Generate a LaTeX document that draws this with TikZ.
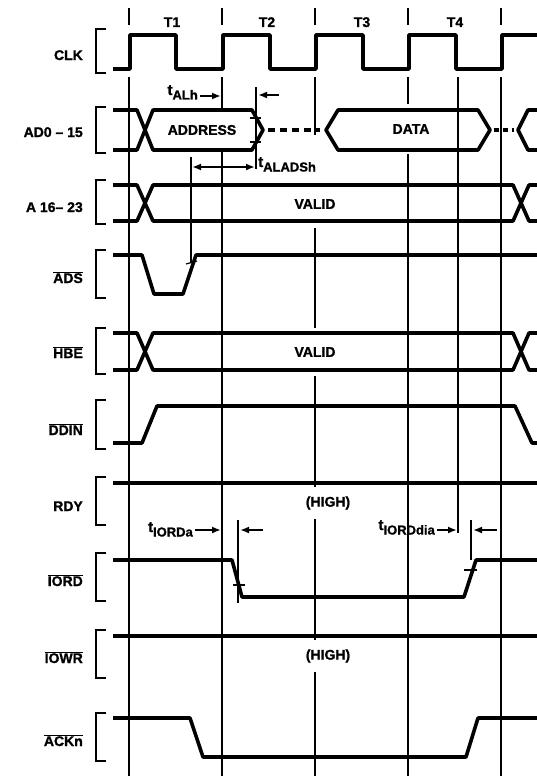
\documentclass[tikz,border=0pt]{standalone}
\usepackage{fontspec}
\setmainfont{Liberation Sans}[BoldFeatures={FakeBold=1.2}]
\usetikzlibrary{arrows.meta}
\newcommand\ovl[1]{$\overline{\hbox{#1}}$}
\newcommand\tsub[1]{{\fontsize{15}{15}\selectfont t}\raisebox{-4.5pt}{\fontsize{13}{13}\selectfont #1}}
\begin{document}
\begin{tikzpicture}[x=1pt,y=-1pt,
  sig/.style={line width=3.6pt, line join=round},
  gridl/.style={line width=1.3pt},
  tickm/.style={line width=1.2pt},
  lbl/.style={font=\fontsize{14}{14}\selectfont\bfseries, inner sep=0pt},
  sname/.style={lbl, anchor=base east},
  mask/.style={lbl, fill=white},
  brk/.style={line width=1.3pt},
  tim/.style={line width=2pt, -{Latex[length=9pt,width=7pt]}},
  timb/.style={line width=2pt, {Latex[length=9pt,width=7pt]}-{Latex[length=9pt,width=7pt]}},
]
\useasboundingbox (0,0) rectangle (537,776);
% grid lines
\foreach \x in {129,222,315,408,501} \draw[gridl] (\x,8) -- (\x,25);
\foreach \x in {129,222,408,501} \draw[gridl] (\x,77) -- (\x,776);
\draw[gridl] (315,77) -- (315,135);
\draw[gridl] (315,228) -- (315,776);
\draw[gridl] (458,77) -- (458,533);
\draw[gridl] (191,157) -- (191,262);
\draw[gridl] (256,87) -- (256,169);
\draw[gridl] (238,520) -- (238,603);
\draw[gridl] (471,520) -- (471,560);
% masking labels
\node[mask, minimum height=36pt, inner xsep=1pt] (addr) at (202,130) {ADDRESS};
\node[mask, minimum height=50pt, inner xsep=2pt] (data) at (411,129) {DATA};
\node[mask, minimum height=34pt, inner xsep=2pt] (valA) at (315,204) {VALID};
\node[mask, minimum height=48pt, inner xsep=2pt] (valH) at (315,352) {VALID};
\node[mask, minimum height=32pt, inner xsep=2pt] (hiR) at (328,503) {(HIGH)};
\node[mask, minimum height=32pt, inner xsep=2pt] (hiW) at (328,656) {(HIGH)};
% period labels
\node[lbl, anchor=base] (T1) at (172,27) {T1};
\node[lbl, anchor=base] (T2) at (267,27) {T2};
\node[lbl, anchor=base] (T3) at (362,27) {T3};
\node[lbl, anchor=base] (T4) at (455,27) {T4};
% signal names
\node[sname] (nclk) at (83,60) {CLK};
\node[sname] (nad) at (83,137) {AD0 -- 15};
\node[sname] (na16) at (83,212) {A 16-- 23};
\node[sname] (nads) at (83,283) {\ovl{ADS}};
\node[sname] (nhbe) at (83,358) {\ovl{HBE}};
\node[sname] (nddin) at (83,435) {\ovl{DDIN}};
\node[sname] (nrdy) at (83,511) {RDY};
\node[sname] (niord) at (83,586) {\ovl{IORD}};
\node[sname] (niowr) at (83,663) {\ovl{IOWR}};
\node[sname] (nack) at (83,746) {\ovl{ACKn}};
% brackets
\foreach \a/\b in {29/73,107/153,180/224,250/298,328/374,400/449,477/525,553/601,630/678,713/761}
  \draw[brk] (106,\a) -- (96,\a) -- (96,\b) -- (106,\b);
% CLK
\draw[sig] (113,69) -- (130,69) -- (130,35) -- (176,35) -- (176,69) -- (223,69) -- (223,35)
  -- (270,35) -- (270,69) -- (316,69) -- (316,35) -- (363,35) -- (363,69) -- (409,69) -- (409,35)
  -- (456,35) -- (456,69) -- (502,69) -- (502,35) -- (537,35);
% AD0-15
\draw[sig] (113,110) -- (137,110) -- (153,150) -- (252,150) -- (263,130) -- (252,110)
  -- (153,110) -- (137,150) -- (113,150);
\draw[sig, dash pattern=on 7pt off 5pt] (268,130) -- (320,130);
\draw[sig] (338,110) -- (478,110) -- (490,130) -- (478,150) -- (338,150) -- (326,130) -- cycle;
\draw[sig, dash pattern=on 5pt off 4pt] (494,130) -- (514,130);
\draw[sig] (537,110) -- (528,110) -- (518,130) -- (528,150) -- (537,150);
% A16-23
\draw[sig] (113,185) -- (137,185) -- (153,221) -- (513,221) -- (529,185) -- (537,185);
\draw[sig] (113,221) -- (137,221) -- (153,185) -- (513,185) -- (529,221) -- (537,221);
% ADS
\draw[sig] (113,255) -- (142,255) -- (154,294) -- (183,294) -- (196,255) -- (537,255);
% HBE
\draw[sig] (113,333) -- (137,333) -- (153,370) -- (513,370) -- (529,333) -- (537,333);
\draw[sig] (113,370) -- (137,370) -- (153,333) -- (513,333) -- (529,370) -- (537,370);
% DDIN
\draw[sig] (113,443) -- (142,443) -- (157,406) -- (515,406) -- (532,443) -- (537,443);
% RDY
\draw[sig] (113,483) -- (537,483);
% IORD
\draw[sig] (113,560) -- (232,560) -- (242,597) -- (464,597) -- (476,560) -- (537,560);
% IOWR
\draw[sig] (113,636) -- (537,636);
% ACKn
\draw[sig] (113,718) -- (190,718) -- (203,757) -- (466,757) -- (478,718) -- (537,718);
% reference ticks
\draw[tickm] (250,118) -- (261,118);
\draw[tickm] (250,142) -- (261,142);
\draw[tickm] (186,264) -- (197,261);
\draw[tickm] (233,585) -- (245,585);
\draw[tickm] (464,570) -- (477,570);
% timing labels and arrows
\node[lbl, anchor=base east] (talh) at (198,95) {\tsub{ALh}};
\coordinate (alhE) at (221,96);
\draw[tim] ([xshift=2pt]talh.east |- alhE) -- (alhE);
\coordinate (alhR0) at (279,95); \coordinate (alhR1) at (258,95);
\draw[tim] (alhR0) -- (alhR1);
\node[lbl, anchor=base west] (tads) at (258,167) {\tsub{ALADSh}};
\coordinate (adsL) at (192,167); \coordinate (adsR) at (255,167);
\draw[timb] (adsL) -- (adsR);
\node[lbl, anchor=base east] (tia) at (193,532) {\tsub{IORDa}};
\coordinate (iaE) at (221,530);
\draw[tim] ([xshift=2pt]tia.east |- iaE) -- (iaE);
\coordinate (iaR0) at (263,530); \coordinate (iaR1) at (240,530);
\draw[tim] (iaR0) -- (iaR1);
\node[lbl, anchor=base east] (tid) at (435,530) {\tsub{IORDdia}};
\coordinate (idE) at (457,530);
\draw[tim] ([xshift=2pt]tid.east |- idE) -- (idE);
\coordinate (idR0) at (497,530); \coordinate (idR1) at (473,530);
\draw[tim] (idR0) -- (idR1);
\end{tikzpicture}
\end{document}
